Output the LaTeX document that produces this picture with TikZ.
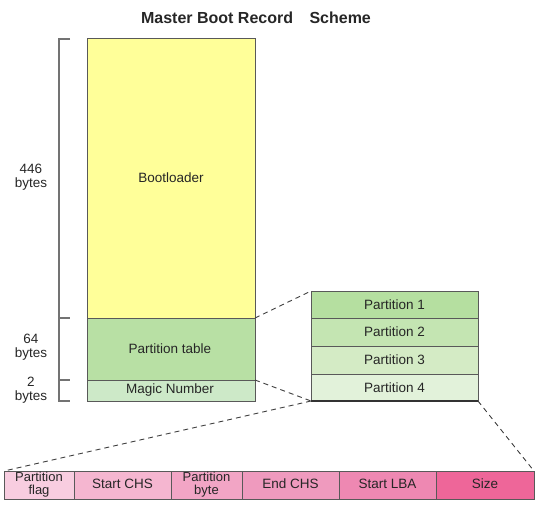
\documentclass[tikz,border=0pt]{standalone}
\usepackage{fontspec}
\setmainfont{Liberation Sans}
\begin{document}
\begin{tikzpicture}[x=1pt,y=-1pt,
  blk/.style={draw=black!65,line width=0.8pt,inner sep=0pt},
  lbl/.style={font=\fontsize{13.5}{14}\selectfont,text=black!85},
  two/.style={align=center,font=\fontsize{13}{13}\selectfont,inner sep=0pt},
  brk/.style={draw=black!55,line width=1.2pt},
  dsh/.style={draw=black!75,dashed,dash pattern=on 5pt off 4pt,line width=0.9pt}]
\useasboundingbox (0,0) rectangle (539,506);
\node[font=\bfseries\fontsize{16}{18}\selectfont,text=black!85] (title) at (256,18) {Master Boot Record\hspace{12pt} Scheme};
% main column
\path[blk,fill={rgb,255:red,255;green,255;blue,153}] (87,38) rectangle (255,318);
\node[lbl] (boot) at (171,178) {Bootloader};
\path[blk,fill={rgb,255:red,184;green,224;blue,164}] (87,318) rectangle (255,380);
\node[lbl] (pt) at (170,349) {Partition table};
\path[blk,fill={rgb,255:red,205;green,233;blue,200}] (87,380) rectangle (255,401);
\node[lbl] (mn) at (170,390.5) {Magic Number};
\coordinate (ptTR) at (255,318);
\coordinate (ptBR) at (255,380);
% bracket
\draw[brk] (70,39) -- (59,39) -- (59,401) -- (70,401);
\draw[brk] (59,318) -- (70,318);
\draw[brk] (59,380) -- (70,380);
\node[lbl,align=center] (b446) at (31,177) {446\\bytes};
\node[lbl,align=center] (b64) at (31,347) {64\\bytes};
\node[lbl,align=center] (b2) at (31,390) {2\\bytes};
% partition table expansion
\path[blk,fill={rgb,255:red,181;green,223;blue,160}] (311,291) rectangle (478,318);
\path[blk,fill={rgb,255:red,196;green,229;blue,178}] (311,318) rectangle (478,346);
\path[blk,fill={rgb,255:red,212;green,235;blue,197}] (311,346) rectangle (478,374);
\path[blk,fill={rgb,255:red,226;green,242;blue,218}] (311,374) rectangle (478,401);
\draw[draw=black!80,line width=1.2pt] (311,401) -- (478,401);
\node[lbl] (p1) at (394.5,304.5) {Partition 1};
\node[lbl] (p2) at (394.5,332) {Partition 2};
\node[lbl] (p3) at (394.5,360) {Partition 3};
\node[lbl] (p4) at (394.5,387.5) {Partition 4};
\coordinate (p1TL) at (311,291);
\coordinate (p4BL) at (311,401);
\coordinate (p4BR) at (478,401);
% bottom entry bar
\path[blk,fill={rgb,255:red,248;green,205;blue,224}] (4,471) rectangle (74,499);
\path[blk,fill={rgb,255:red,245;green,182;blue,208}] (74,471) rectangle (171,499);
\path[blk,fill={rgb,255:red,242;green,165;blue,197}] (171,471) rectangle (242,499);
\path[blk,fill={rgb,255:red,239;green,154;blue,190}] (242,471) rectangle (339,499);
\path[blk,fill={rgb,255:red,238;green,136;blue,178}] (339,471) rectangle (436,499);
\path[blk,fill={rgb,255:red,238;green,102;blue,153}] (436,471) rectangle (534,499);
\node[lbl,two] (e1) at (39,485) {Partition\\flag};
\node[lbl] (e2) at (122.5,484) {Start CHS};
\node[lbl,two] (e3) at (206.5,485) {Partition\\byte};
\node[lbl] (e4) at (290.5,484) {End CHS};
\node[lbl] (e5) at (387.5,484) {Start LBA};
\node[lbl] (e6) at (485,484) {Size};
\coordinate (barTL) at (4,471);
\coordinate (barTR) at (534,471);
% dashed connectors
\draw[dsh] (ptTR) -- (p1TL);
\draw[dsh] (ptBR) -- (p4BL);
\draw[dsh] (p4BL) -- (barTL);
\draw[dsh] (p4BR) -- (barTR);
\end{tikzpicture}
\end{document}
